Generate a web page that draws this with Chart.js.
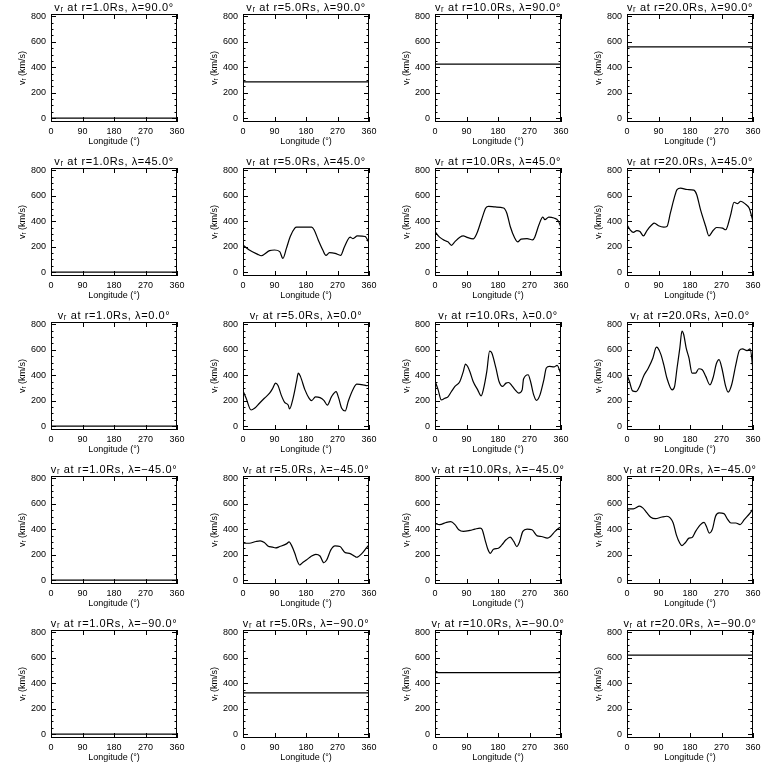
<!DOCTYPE html>
<html>
<head>
<meta charset="utf-8">
<script src="https://cdn.jsdelivr.net/npm/chart.js@4.4.0/dist/chart.umd.min.js"></script>
<style>
  html, body { margin: 0; padding: 0; background: #fff; }
  #grid { position: relative; width: 768px; height: 768px; overflow: hidden; }
  #grid canvas { position: absolute; }
</style>
</head>
<body>
<div id="grid"></div>
<script>
// axes
const xTicks = [0, 90, 180, 270, 360];
const yTicks = [0, 200, 400, 600, 800];
const radii = ['1.0', '5.0', '10.0', '20.0'];
const lats = ['90.0', '45.0', '0.0', '\u221245.0', '\u221290.0'];

// flat profiles (poles), one value per radius
const flatNorth = [0, 285, 425, 560];
const flatSouth = [0, 325, 483, 620];

// lat 45
const lon5N45 = [0, 18, 42, 52, 76, 90, 105, 114, 124, 135, 148, 153, 175, 196, 203, 215, 228, 237, 247, 263, 279, 289, 299, 306, 314, 327, 349, 360];
const v5N45 = [214, 174, 140, 129, 169, 174, 161, 108, 187, 280, 346, 354, 354, 354, 333, 253, 174, 132, 153, 148, 132, 193, 253, 275, 264, 285, 280, 230];
const lon10N45 = [0, 13, 28, 37, 47, 57, 71, 81, 90, 109, 119, 133, 145, 153, 172, 196, 205, 215, 228, 236, 246, 263, 279, 285, 297, 308, 314, 325, 340, 352, 360];
const v10N45 = [319, 275, 248, 238, 211, 240, 275, 285, 275, 261, 301, 412, 504, 517, 512, 504, 465, 359, 267, 238, 259, 264, 253, 275, 372, 433, 412, 433, 425, 404, 350];
const lon20N45 = [0, 9, 18, 28, 37, 47, 57, 71, 78, 90, 105, 114, 124, 135, 143, 153, 172, 191, 199, 210, 225, 234, 246, 256, 273, 282, 295, 306, 316, 325, 340, 349, 360];
const v20N45 = [372, 333, 312, 327, 319, 285, 327, 372, 385, 364, 354, 359, 465, 583, 649, 660, 649, 644, 610, 491, 359, 285, 327, 351, 346, 333, 438, 549, 538, 557, 531, 504, 399];

// lat 0
const lon5Eq = [0, 9, 23, 33, 47, 61, 76, 85, 93, 100, 109, 119, 129, 133, 143, 153, 158, 164, 177, 189, 196, 207, 220, 231, 241, 253, 266, 273, 282, 292, 301, 316, 325, 343, 352, 360];
const v5Eq = [277, 219, 127, 140, 180, 219, 259, 298, 338, 319, 246, 187, 166, 135, 219, 351, 417, 391, 285, 219, 201, 230, 224, 203, 166, 232, 272, 224, 140, 119, 198, 298, 330, 325, 319, 320];
const lon10Eq = [0, 9, 18, 28, 37, 47, 57, 71, 81, 87, 93, 100, 109, 122, 132, 138, 148, 156, 162, 174, 183, 193, 203, 210, 220, 229, 239, 249, 253, 266, 273, 282, 290, 300, 311, 318, 327, 340, 349, 360];
const v10Eq = [356, 285, 206, 219, 230, 272, 312, 351, 430, 488, 470, 425, 351, 285, 238, 285, 430, 589, 576, 457, 351, 312, 338, 343, 317, 285, 259, 285, 370, 404, 351, 246, 203, 246, 364, 457, 470, 465, 478, 404];
const lon20Eq = [0, 7, 16, 26, 36, 47, 61, 74, 84, 88, 97, 105, 114, 129, 136, 143, 151, 157, 162, 169, 177, 186, 196, 205, 215, 225, 237, 247, 255, 263, 271, 282, 289, 299, 311, 321, 330, 343, 352, 360];
const v20Eq = [404, 351, 277, 272, 312, 391, 457, 536, 620, 615, 562, 483, 378, 285, 312, 457, 615, 747, 720, 615, 536, 417, 417, 451, 443, 391, 325, 391, 488, 523, 457, 312, 267, 325, 483, 594, 607, 594, 607, 443];

// lat -45
const lon5S45 = [0, 18, 37, 49, 61, 71, 85, 93, 105, 124, 132, 138, 148, 155, 162, 170, 181, 196, 208, 220, 231, 239, 251, 263, 277, 292, 304, 318, 325, 340, 352, 360];
const v5S45 = [290, 290, 304, 309, 296, 269, 259, 253, 264, 285, 301, 277, 211, 153, 119, 137, 158, 190, 203, 190, 137, 158, 238, 269, 264, 216, 211, 190, 180, 211, 251, 277];
const lon10S45 = [0, 13, 33, 45, 57, 68, 81, 100, 114, 129, 135, 143, 151, 158, 167, 181, 191, 203, 215, 225, 234, 241, 251, 263, 277, 292, 304, 321, 330, 343, 354, 360];
const v10S45 = [444, 436, 454, 459, 436, 396, 383, 391, 401, 409, 396, 317, 243, 211, 243, 251, 277, 317, 338, 304, 264, 296, 383, 401, 396, 348, 343, 330, 343, 383, 409, 420];
const lon20S45 = [0, 18, 36, 45, 57, 68, 81, 100, 114, 124, 132, 141, 151, 157, 167, 177, 186, 196, 210, 220, 227, 235, 244, 253, 263, 277, 287, 297, 311, 323, 335, 352, 360];
const v20S45 = [560, 560, 581, 568, 528, 494, 483, 496, 502, 488, 449, 356, 290, 272, 296, 330, 335, 383, 436, 454, 422, 370, 401, 502, 528, 523, 480, 449, 449, 436, 475, 528, 560];

function flat(v) { return { lon: [0, 360], v: [v, v] }; }

const panels = [
  [flat(flatNorth[0]), flat(flatNorth[1]), flat(flatNorth[2]), flat(flatNorth[3])],
  [flat(0), { lon: lon5N45, v: v5N45 }, { lon: lon10N45, v: v10N45 }, { lon: lon20N45, v: v20N45 }],
  [flat(0), { lon: lon5Eq, v: v5Eq }, { lon: lon10Eq, v: v10Eq }, { lon: lon20Eq, v: v20Eq }],
  [flat(0), { lon: lon5S45, v: v5S45 }, { lon: lon10S45, v: v10S45 }, { lon: lon20S45, v: v20S45 }],
  [flat(flatSouth[0]), flat(flatSouth[1]), flat(flatSouth[2]), flat(flatSouth[3])]
];

const FONT = '"Liberation Sans", Arial, sans-serif';

// box, inward ticks and panel title
const framePlugin = {
  id: 'frame',
  afterDraw(chart, args, opts) {
    const { ctx, chartArea: a, scales: { x, y } } = chart;
    ctx.save();
    ctx.strokeStyle = '#000';
    ctx.lineWidth = 1;
    ctx.strokeRect(a.left + 0.5, a.top + 0.5, a.right - a.left - 1, a.bottom - a.top - 1);
    ctx.beginPath();
    xTicks.forEach(t => {
      const px = Math.round(x.getPixelForValue(t)) + 0.5;
      ctx.moveTo(px, a.bottom); ctx.lineTo(px, a.bottom - 5);
      ctx.moveTo(px, a.top); ctx.lineTo(px, a.top + 5);
    });
    for (let t = yTicks[0]; t <= yTicks[yTicks.length - 1]; t += 50) {
      const py = Math.round(y.getPixelForValue(t)) + 0.5;
      const len = yTicks.includes(t) ? 5 : 2.5;
      ctx.moveTo(a.left, py); ctx.lineTo(a.left + len, py);
      ctx.moveTo(a.right, py); ctx.lineTo(a.right - len, py);
    }
    ctx.stroke();
    ctx.fillStyle = '#000';
    ctx.font = '11px ' + FONT;
    ctx.letterSpacing = '0.6px';
    ctx.textAlign = 'center';
    ctx.textBaseline = 'middle';
    ctx.fillText(opts.text, (a.left + a.right) / 2, 7.5);
    ctx.restore();
  }
};

const grid = document.getElementById('grid');

panels.forEach((row, r) => {
  row.forEach((p, c) => {
    const canvas = document.createElement('canvas');
    canvas.width = 192;
    canvas.height = 152;
    canvas.style.left = (192 * c) + 'px';
    canvas.style.top = (154 * r) + 'px';
    grid.appendChild(canvas);

    new Chart(canvas.getContext('2d'), {
      type: 'line',
      data: {
        datasets: [{
          data: p.lon.map((lon, i) => ({ x: lon, y: p.v[i] })),
          borderColor: '#000',
          borderWidth: 1.2,
          pointRadius: 0,
          fill: false,
          cubicInterpolationMode: 'monotone'
        }]
      },
      options: {
        responsive: false,
        animation: false,
        events: [],
        layout: { padding: { top: 14, right: 15, bottom: 0, left: 0 } },
        plugins: {
          legend: { display: false },
          tooltip: { enabled: false },
          frame: { text: 'v\u1D63 at r=' + radii[c] + 'Rs, \u03BB=' + lats[r] + '\u00B0' }
        },
        scales: {
          x: {
            type: 'linear',
            min: 0,
            max: 360,
            grid: { display: false, drawTicks: false },
            border: { display: false },
            afterBuildTicks: s => { s.ticks = xTicks.map(v => ({ value: v })); },
            afterFit: s => { s.height = 30; },
            ticks: { color: '#000', padding: 4, maxRotation: 0, font: { family: FONT, size: 9 } },
            title: { display: true, text: 'Longitude (\u00B0)', color: '#000', padding: { top: 0, bottom: 5 }, font: { family: FONT, size: 9 } }
          },
          y: {
            min: -30,
            max: 818,
            grid: { display: false, drawTicks: false },
            border: { display: false },
            afterBuildTicks: s => { s.ticks = yTicks.map(v => ({ value: v })); },
            afterFit: s => { s.width = 51; },
            ticks: { color: '#000', padding: 5, font: { family: FONT, size: 9 } },
            title: { display: true, text: 'v\u1D63 (km/s)', color: '#000', padding: { top: 17, bottom: 0 }, font: { family: FONT, size: 9 } }
          }
        }
      },
      plugins: [framePlugin]
    });
  });
});
</script>
</body>
</html>
